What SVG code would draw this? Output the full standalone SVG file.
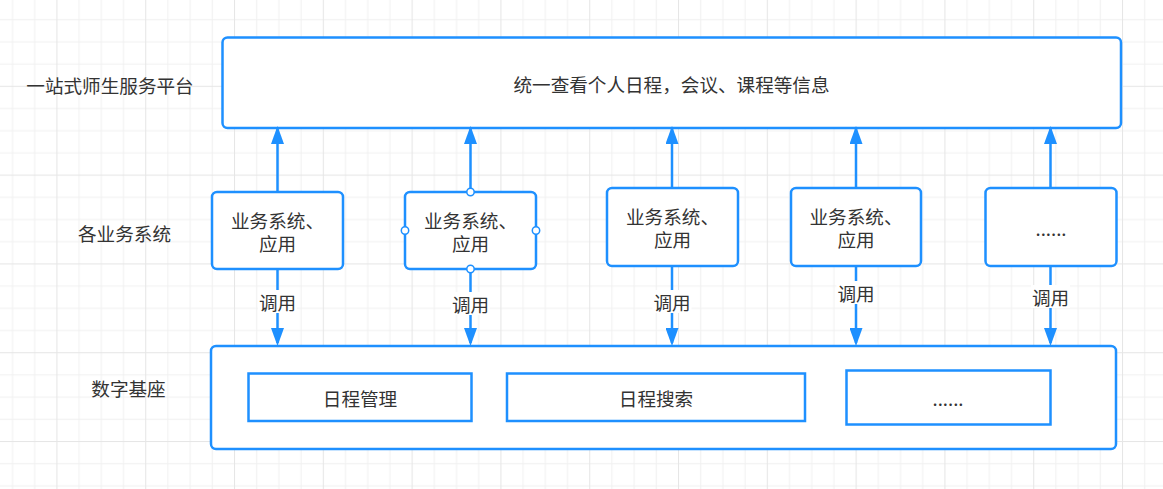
<svg xmlns="http://www.w3.org/2000/svg" width="1163" height="489" viewBox="0 0 1163 489">
  <defs>
    <pattern id="grid" patternUnits="userSpaceOnUse" x="56.4" y="85.8" width="88.8" height="88.8">
      <rect width="88.8" height="88.8" fill="#ffffff"/>
      <g fill="#f1f1f1">
        <rect x="22.2" y="0" width="1" height="88.8"/>
        <rect x="44.4" y="0" width="1" height="88.8"/>
        <rect x="66.6" y="0" width="1" height="88.8"/>
        <rect x="0" y="22.2" width="88.8" height="1"/>
        <rect x="0" y="44.4" width="88.8" height="1"/>
        <rect x="0" y="66.6" width="88.8" height="1"/>
      </g>
      <g fill="#e6e6e6">
        <rect x="0" y="0" width="1" height="88.8"/>
        <rect x="0" y="0" width="88.8" height="1"/>
      </g>
    </pattern>
    <marker id="arrow" viewBox="0 0 18 13" markerUnits="userSpaceOnUse" markerWidth="18" markerHeight="13" refX="15" refY="6.5" orient="auto">
      <path d="M0,0 L18,6.5 L0,13 Z" fill="#1E90FF"/>
    </marker>
    <style>
      .box { fill: #ffffff; stroke: #1E90FF; stroke-width: 2.5; }
      .inner { fill: #ffffff; stroke: #1E90FF; stroke-width: 2.5; }
      .t { font-family: "Noto Sans CJK SC", "Liberation Sans", sans-serif; font-size: 18.6px; fill: #333333; text-anchor: middle; dominant-baseline: central; }
      .t2 { font-family: "Liberation Sans", "Noto Sans CJK SC", sans-serif; font-size: 18.6px; fill: #333333; text-anchor: middle; }
      .edge { fill: none; stroke: #1E90FF; stroke-width: 2.5; marker-end: url(#arrow); }
      .lbl { fill: #ffffff; }
      .pt { fill: #ffffff; stroke: #1E90FF; stroke-width: 1.5; }
    </style>
  </defs>

  <rect x="0" y="0" width="1163" height="489" fill="url(#grid)"/>

  <g id="row-labels">
    <text class="t" x="110" y="84">一站式师生服务平台</text>
    <text class="t" x="124.5" y="232">各业务系统</text>
    <text class="t" x="128.5" y="387">数字基座</text>
  </g>

  <g id="platform">
    <rect class="box" x="222.5" y="37.5" width="898.5" height="90.5" rx="5" ry="5"/>
    <text class="t" x="671.5" y="83">统一查看个人日程，会议、课程等信息</text>
  </g>

  <g id="base">
    <rect class="box" x="211" y="346" width="905" height="103" rx="5" ry="5"/>
  </g>
  <g id="schedule-mgmt">
    <rect class="inner" x="248.5" y="373.5" width="223" height="47.5"/>
    <text class="t" x="360" y="397">日程管理</text>
  </g>
  <g id="schedule-search">
    <rect class="inner" x="507" y="373.5" width="298" height="47.5"/>
    <text class="t" x="656" y="397">日程搜索</text>
  </g>
  <g id="base-more">
    <rect class="inner" x="846.5" y="370.5" width="204" height="54"/>
    <text class="t" x="948" y="397">......</text>
  </g>

  <g id="connectors">
    <path class="edge" d="M277.5,192 L277.5,129"/>
    <path class="edge" d="M470.5,192 L470.5,129"/>
    <path class="edge" d="M672,188 L672,129"/>
    <path class="edge" d="M856,188 L856,129"/>
    <path class="edge" d="M1050.5,188 L1050.5,129"/>

    <path class="edge" d="M277.5,269 L277.5,343"/>
    <path class="edge" d="M470.5,269 L470.5,343"/>
    <path class="edge" d="M672,266 L672,343"/>
    <path class="edge" d="M856,266 L856,343"/>
    <path class="edge" d="M1050.5,266 L1050.5,343"/>

    <rect class="lbl" x="258" y="290" width="39" height="23"/>
    <text class="t" x="277.5" y="301.5">调用</text>
    <rect class="lbl" x="451" y="292" width="39" height="23"/>
    <text class="t" x="470.5" y="303.5">调用</text>
    <rect class="lbl" x="652.5" y="290" width="39" height="23"/>
    <text class="t" x="672" y="301.5">调用</text>
    <rect class="lbl" x="836.5" y="281" width="39" height="23"/>
    <text class="t" x="856" y="292.5">调用</text>
    <rect class="lbl" x="1031" y="285" width="39" height="23"/>
    <text class="t" x="1050.5" y="296.5">调用</text>
  </g>

  <g id="app1">
    <rect class="box" x="212" y="192" width="131" height="77" rx="5" ry="5"/>
    <text class="t2" x="277.5" y="228.1">业务系统、</text>
    <text class="t2" x="277.5" y="251.1">应用</text>
  </g>
  <g id="app2">
    <rect class="box" x="405" y="192" width="131" height="77" rx="5" ry="5"/>
    <text class="t2" x="470.5" y="228.1">业务系统、</text>
    <text class="t2" x="470.5" y="251.1">应用</text>
    <circle class="pt" cx="470.5" cy="192" r="3.7"/>
    <circle class="pt" cx="470.5" cy="269" r="3.7"/>
    <circle class="pt" cx="405" cy="230.5" r="3.7"/>
    <circle class="pt" cx="536" cy="230.5" r="3.7"/>
  </g>
  <g id="app3">
    <rect class="box" x="607" y="188" width="131" height="78" rx="5" ry="5"/>
    <text class="t2" x="672.5" y="223.6">业务系统、</text>
    <text class="t2" x="672.5" y="246.6">应用</text>
  </g>
  <g id="app4">
    <rect class="box" x="791" y="188" width="130" height="78" rx="5" ry="5"/>
    <text class="t2" x="856" y="223.6">业务系统、</text>
    <text class="t2" x="856" y="246.6">应用</text>
  </g>
  <g id="app5">
    <rect class="box" x="985.5" y="188" width="131" height="78" rx="5" ry="5"/>
    <text class="t" x="1051" y="227">......</text>
  </g>
</svg>
